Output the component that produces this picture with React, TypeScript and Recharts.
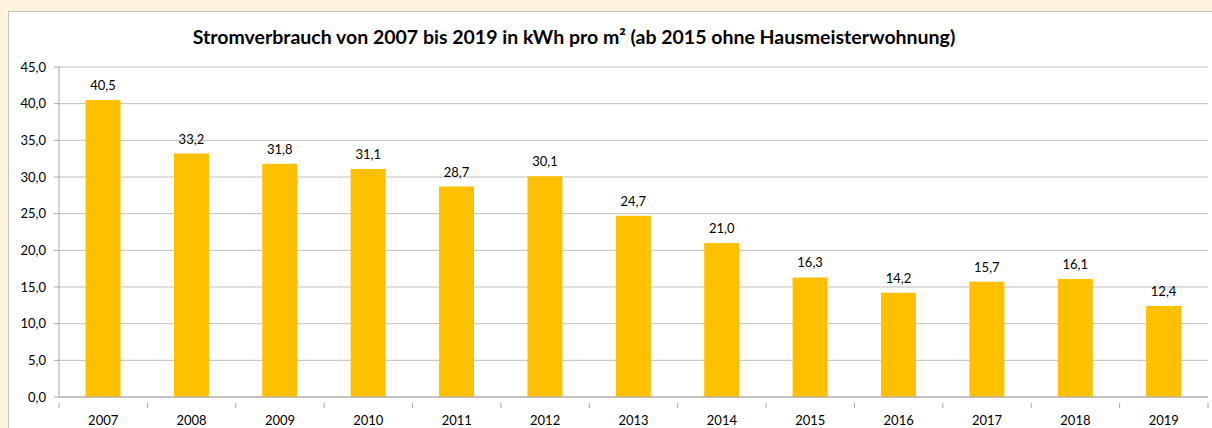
import { BarChart, Bar, XAxis, YAxis, CartesianGrid, LabelList } from "recharts";

const years = ["2007", "2008", "2009", "2010", "2011", "2012", "2013", "2014", "2015", "2016", "2017", "2018", "2019"];
const verbrauch = [40.5, 33.2, 31.8, 31.1, 28.7, 30.1, 24.7, 21.0, 16.3, 14.2, 15.7, 16.1, 12.4];
const yTicks = [0, 5, 10, 15, 20, 25, 30, 35, 40, 45];

const data = years.map((jahr, i) => ({ jahr, wert: verbrauch[i] }));

const fmt = (v: number) => v.toFixed(1).replace(".", ",");

const FONT = "Lato, 'Open Sans', sans-serif";
const LEFT = 59;
const RIGHT = 1208;
const BAND = (RIGHT - LEFT) / years.length;

// label plus tick marks at the category boundaries, like Excel does it
const XTick = (props: any) => {
  const { x, y, payload, index } = props;
  const last = index === years.length - 1;
  return (
    <g>
      <line x1={x - BAND / 2} x2={x - BAND / 2} y1={y - 2} y2={y + 3} stroke="#A6A6A6" />
      {last && <line x1={x + BAND / 2} x2={x + BAND / 2} y1={y - 2} y2={y + 3} stroke="#A6A6A6" />}
      <text x={x} y={y + 20} textAnchor="middle" fontSize={13} fill="#000" fontFamily={FONT}>
        {payload.value}
      </text>
    </g>
  );
};

export default function App() {
  return (
    <div style={{ position: "absolute", left: 0, top: 0, width: 1212, height: 428, background: "#FEF4E0", overflow: "hidden" }}>
      <div
        style={{
          position: "absolute",
          left: 8,
          top: 11,
          width: 1220,
          height: 430,
          background: "#fff",
          borderLeft: "1px solid #C9C4B8",
          borderTop: "1px solid #C9C4B8",
        }}
      />
      <div style={{ position: "absolute", left: 0, top: 0 }}>
        <BarChart
          width={1212}
          height={428}
          data={data}
          margin={{ top: 67, right: 1212 - RIGHT, left: 0, bottom: 0 }}
          barCategoryGap="30%"
        >
          <text x={574} y={44} textAnchor="middle" fontSize={19.5} fontWeight="bold" fontFamily={FONT} fill="#000">
            Stromverbrauch von 2007 bis 2019 in kWh pro m² (ab 2015 ohne Hausmeisterwohnung)
          </text>
          <CartesianGrid vertical={false} stroke="#BFBFBF" />
          <XAxis
            dataKey="jahr"
            height={31}
            axisLine={{ stroke: "#A6A6A6" }}
            tickLine={false}
            tick={<XTick />}
            interval={0}
          />
          <YAxis
            width={LEFT}
            domain={[0, 45]}
            ticks={yTicks}
            interval={0}
            tickFormatter={fmt}
            axisLine={{ stroke: "#A6A6A6" }}
            tickLine={{ stroke: "#A6A6A6" }}
            tickSize={5}
            tickMargin={8}
            tick={{ fontSize: 13, fill: "#000", fontFamily: FONT }}
          />
          <Bar dataKey="wert" fill="#FFC000" isAnimationActive={false}>
            <LabelList
              dataKey="wert"
              position="top"
              offset={10}
              formatter={(v: any) => fmt(Number(v))}
              style={{ fontSize: 13, fill: "#000", fontFamily: FONT }}
            />
          </Bar>
        </BarChart>
      </div>
    </div>
  );
}
